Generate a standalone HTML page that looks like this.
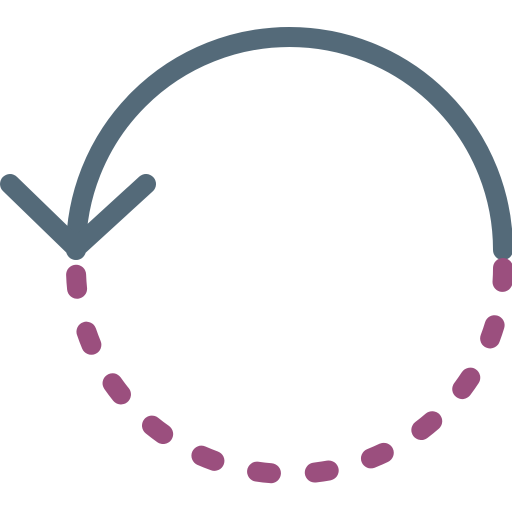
<!DOCTYPE html>
<html>
<head>
<meta charset="utf-8">
<style>
html,body{margin:0;padding:0;background:#fff;}
svg{display:block;}
</style>
</head>
<body>
<svg width="512" height="512" viewBox="0 0 512 512">
  <path d="M503 250 A213.5 213 0 0 0 76 250" fill="none" stroke="#546a79" stroke-width="20" stroke-linecap="round"/>
  <path d="M10 184 L76 248 L146 184" fill="none" stroke="#546a79" stroke-width="20" stroke-linecap="round" stroke-linejoin="round"/>
  <path d="M503 268 A213.5 206 0 0 1 76 268" fill="none" stroke="#9b4f7e" stroke-width="20" stroke-linecap="round" stroke-dasharray="14 44"/>
</svg>
</body>
</html>
